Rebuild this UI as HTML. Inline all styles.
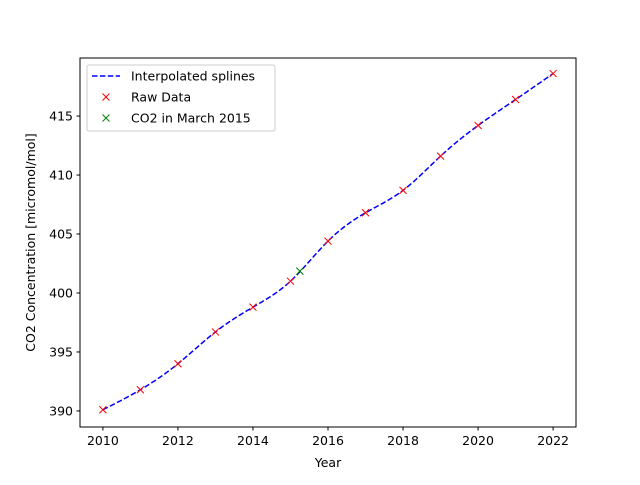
<!DOCTYPE html>
<html><head><meta charset="utf-8"><style>
body{margin:0;background:#fff;}
svg{font-family:"DejaVu Sans","Liberation Sans",sans-serif;}
</style></head><body>
<svg id="chart" width="640" height="480" xmlns="http://www.w3.org/2000/svg"></svg>
<script>
const years=[2010,2011,2012,2013,2014,2015,2016,2017,2018,2019,2020,2021,2022];
const co2=[390.1,391.8,394.0,396.7,398.8,401.0,404.4,406.8,408.7,411.6,414.2,416.4,418.6];
const marchX=[2015.25];
const marchY=[401.85];
const xTicks=[2010,2012,2014,2016,2018,2020,2022];
const yTicks=[390,395,400,405,410,415];

const NS="http://www.w3.org/2000/svg";
const svg=document.getElementById('chart');
const L=80,R=576,T=58,B=427;
const x0=2009.39,x1=2022.61,y0=388.64,y1=419.92;
const FS=12.5;
const sx=v=>L+(v-x0)/(x1-x0)*(R-L);
const sy=v=>B-(v-y0)/(y1-y0)*(B-T);
function el(tag,attrs,parent){const e=document.createElementNS(NS,tag);for(const k in attrs)e.setAttribute(k,attrs[k]);(parent||svg).appendChild(e);return e;}

function spline(xs,ys){const n=xs.length,h=[],a=[],l=[1],mu=[0],z=[0],c=new Array(n).fill(0),b=[],d=[];
for(let i=0;i<n-1;i++)h.push(xs[i+1]-xs[i]);
for(let i=1;i<n-1;i++)a[i]=3/h[i]*(ys[i+1]-ys[i])-3/h[i-1]*(ys[i]-ys[i-1]);
for(let i=1;i<n-1;i++){l[i]=2*(xs[i+1]-xs[i-1])-h[i-1]*mu[i-1];mu[i]=h[i]/l[i];z[i]=(a[i]-h[i-1]*z[i-1])/l[i];}
for(let j=n-2;j>=0;j--){c[j]=(j>0?z[j]:0)-mu[j]*c[j+1];if(j===0)c[0]=0;b[j]=(ys[j+1]-ys[j])/h[j]-h[j]*(c[j+1]+2*c[j])/3;d[j]=(c[j+1]-c[j])/(3*h[j]);}
return t=>{let i=xs.findIndex((v,k)=>k<n-1&&t<=xs[k+1]);if(i<0)i=n-2;const dx=t-xs[i];return ys[i]+b[i]*dx+c[i]*dx*dx+d[i]*dx*dx*dx;};}
const f=spline(years,co2);

const frame=el('rect',{x:L,y:T,width:R-L,height:B-T,fill:'none',stroke:'#000','stroke-width':1});


xTicks.forEach(t=>{const g=el('g',{});
el('line',{x1:sx(t),x2:sx(t),y1:B,y2:B+3.5,stroke:'#000'},g);
const tx=el('text',{x:sx(t),y:B+18,'font-size':FS,'text-anchor':'middle'},g);tx.textContent=t;});
yTicks.forEach(t=>{const g=el('g',{});
el('line',{x1:L-3.5,x2:L,y1:sy(t),y2:sy(t),stroke:'#000'},g);
const tx=el('text',{x:L-7,y:sy(t)+4.5,'font-size':FS,'text-anchor':'end'},g);tx.textContent=t;});

const xl=el('text',{x:(L+R)/2,y:467,'font-size':FS,'text-anchor':'middle'});xl.textContent='Year';

const yl=el('text',{x:0,y:0,'font-size':FS,'text-anchor':'middle',transform:`translate(35,${(T+B)/2}) rotate(-90)`});yl.textContent='CO2 Concentration [micromol/mol]';


let pts=[];for(let i=0;i<=400;i++){const t=years[0]+(years[years.length-1]-years[0])*i/400;pts.push(sx(t).toFixed(2)+','+sy(f(t)).toFixed(2));}
const line=el('polyline',{points:pts.join(' '),fill:'none',stroke:'#0000ff','stroke-width':1.5,'stroke-dasharray':'5.5,2.4'});


function cross(cx,cy,color,name){const g=el('g',{stroke:color,'stroke-width':1});
el('line',{x1:cx-3.5,y1:cy-3.5,x2:cx+3.5,y2:cy+3.5},g);el('line',{x1:cx-3.5,y1:cy+3.5,x2:cx+3.5,y2:cy-3.5},g);}
years.forEach((y,i)=>cross(sx(y),sy(co2[i]),'#ff0000','raw-point-'+y));
marchX.forEach((x,i)=>cross(sx(x),sy(marchY[i]),'#008000','march-2015-point'));

const lg=el('g',{});
el('rect',{x:87,y:65,width:188,height:66,rx:2,fill:'#fff',stroke:'#ccc'},lg);
el('line',{x1:92,x2:120,y1:76,y2:76,stroke:'#0000ff','stroke-width':1.5,'stroke-dasharray':'5.5,2.4'},lg);
[['Interpolated splines',76],['Raw Data',97],['CO2 in March 2015',118]].forEach(([s,y])=>{const t=el('text',{x:131,y:y+4.5,'font-size':FS},lg);t.textContent=s;});
cross(106,97,'#ff0000','legend-raw-marker');cross(106,118,'#008000','legend-march-marker');
</script>
</body></html>
